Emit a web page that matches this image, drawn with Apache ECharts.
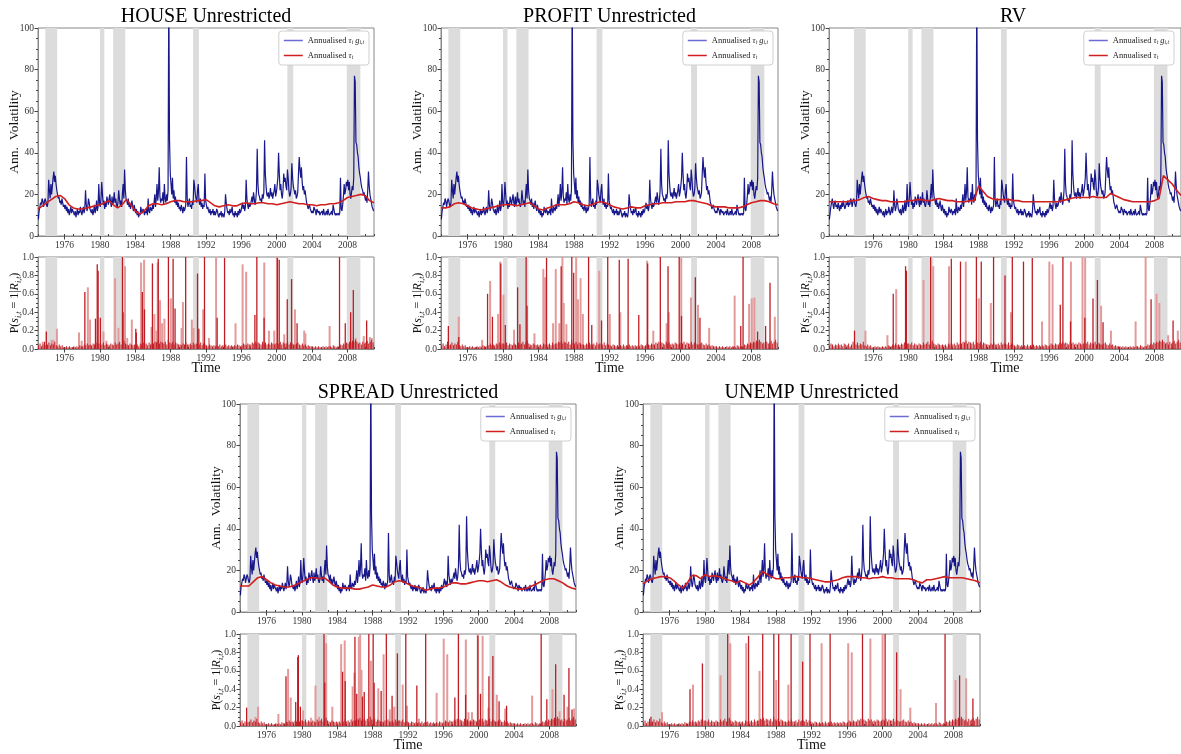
<!DOCTYPE html>
<html>
<head>
<meta charset="utf-8">
<script src="https://cdn.jsdelivr.net/npm/echarts@6/dist/echarts.min.js"></script>
<style>
  html, body { margin: 0; padding: 0; background: #fff; }
  #main { width: 1181px; height: 754px; }
</style>
</head>
<body>
<div id="main"></div>
<script>
// recession bands (NBER)
var recessions = [[1973.83, 1975.17], [1980.0, 1980.5], [1981.5, 1982.87], [1990.54, 1991.2], [2001.2, 2001.87], [2007.92, 2009.46]];
var yearTicks = [1976, 1980, 1984, 1988, 1992, 1996, 2000, 2004, 2008];

// annualised tau*g, monthly from Jan 1973 (same shape in every panel)
var blue = [
  8, 12, 14, 16, 15, 18, 17, 14, 16, 18, 17, 15,
  14, 16, 27, 22, 18, 25, 20, 24, 28, 31, 26, 29,
  25, 22, 20, 18, 19, 16, 17, 15, 18, 16, 14, 15,
  13, 15, 12, 14, 11, 13, 10, 12, 14, 11, 13, 12,
  11, 10, 12, 9, 11, 13, 10, 12, 11, 14, 12, 10,
  12, 14, 11, 13, 22, 15, 12, 14, 18, 16, 13, 12,
  11, 13, 10, 12, 15, 11, 13, 17, 12, 14, 25, 16,
  14, 18, 26, 20, 15, 17, 13, 16, 14, 19, 17, 15,
  18, 20, 16, 14, 19, 15, 17, 21, 16, 18, 15, 14,
  16, 22, 18, 15, 17, 14, 20, 25, 18, 32, 22, 18,
  17, 15, 18, 14, 16, 13, 15, 17, 14, 12, 15, 13,
  11, 13, 10, 12, 9, 11, 10, 14, 12, 11, 13, 12,
  10, 12, 11, 13, 10, 18, 12, 11, 14, 13, 12, 15,
  13, 16, 20, 14, 18, 25, 17, 21, 33, 19, 16, 18,
  17, 21, 15, 25, 18, 16, 20, 17, 22, 120, 46, 30,
  25, 20, 28, 18, 22, 16, 19, 15, 17, 14, 16, 13,
  14, 12, 15, 13, 11, 14, 12, 13, 15, 38, 18, 14,
  16, 18, 14, 15, 13, 17, 15, 27, 24, 20, 18, 16,
  22, 25, 17, 15, 18, 14, 16, 13, 15, 14, 30, 17,
  15, 13, 14, 12, 11, 13, 10, 12, 11, 13, 10, 12,
  10, 11, 13, 12, 10, 9, 11, 10, 12, 9, 11, 10,
  9, 12, 20, 16, 13, 11, 12, 10, 13, 11, 12, 14,
  10, 11, 9, 12, 10, 11, 9, 12, 10, 13, 11, 12,
  14, 16, 13, 15, 12, 14, 27, 18, 15, 13, 16, 14,
  15, 17, 19, 16, 21, 18, 15, 17, 22, 42, 25, 20,
  19, 17, 18, 16, 20, 18, 21, 46, 30, 24, 20, 19,
  21, 18, 20, 23, 19, 21, 18, 20, 22, 25, 19, 21,
  24, 28, 40, 30, 22, 25, 20, 18, 22, 30, 26, 28,
  24, 22, 32, 28, 22, 19, 20, 23, 35, 28, 24, 22,
  20, 22, 18, 19, 21, 30, 38, 32, 28, 33, 26, 22,
  24, 20, 22, 19, 16, 15, 13, 14, 15, 13, 12, 11,
  12, 11, 14, 13, 12, 10, 13, 12, 11, 12, 10, 11,
  11, 12, 10, 13, 11, 10, 11, 12, 10, 13, 11, 10,
  10, 11, 12, 10, 15, 13, 11, 10, 11, 10, 10, 11,
  10, 11, 28, 13, 12, 15, 19, 25, 20, 22, 26, 24,
  27, 22, 26, 20, 18, 21, 24, 22, 28, 77, 74, 45,
  44, 40, 38, 33, 30, 28, 25, 23, 22, 20, 21, 19,
  17, 19, 16, 22, 31, 24, 20, 18, 16, 14, 13, 12
];
// RV sample starts earlier: Jan 1971 - Feb 1973
var rvHead = [8, 11, 14, 16, 18, 15, 13, 16, 17, 14, 15, 13,
  16, 14, 12, 15, 13, 16, 14, 17, 15, 13, 14, 16, 15, 17];

// annualised tau, half-yearly from 1973.0 to 2011.0
var houseTau = [13, 14.5, 16, 17.5, 19, 19.5, 18, 15, 13.5, 13, 13, 13.5, 14, 14.5, 15, 16,
  17, 15, 13.5, 15, 17.5, 15, 12, 10.5, 12, 14.5, 15.5, 15.5, 15, 15.5, 16.5, 17,
  17, 16.5, 16.5, 16.5, 17, 17, 17.5, 16, 14.5, 14, 14.5, 15, 14.5, 14.5, 15.5, 16,
  15.5, 15.5, 16, 16, 15.5, 15.5, 15, 15.5, 16, 16.5, 16, 15.5, 15.5, 15, 15, 14.5,
  15, 15, 15.5, 15.5, 16, 17, 18.5, 19, 19.5, 20, 19.5, 17, 16];
var profitTau = [13.5, 13.5, 14, 15.5, 16, 15.5, 14.5, 13.5, 13, 12.5, 13, 13.5, 14, 14.5, 15, 15,
  15, 14.5, 15, 15.5, 16, 14.5, 13, 12.5, 13.5, 14, 15, 15, 15, 15.5, 16.5, 16,
  15, 14.5, 15, 16, 16.5, 16, 15, 14, 13.5, 13, 13.5, 14, 13.5, 13.5, 14.5, 15,
  15.5, 15.5, 16, 16, 16, 16.5, 16.5, 16.5, 17, 17, 16.5, 16, 15.5, 14.5, 14, 14,
  14, 13.5, 13.5, 13.5, 14, 15, 16, 16.5, 17, 17, 16.5, 15.5, 15];
var spreadTau = [12.5, 12.5, 12.5, 14.5, 16.5, 17, 15.5, 14, 13, 12.5, 12, 12, 12.5, 13.5, 14.5, 15.5,
  16.5, 16.5, 16, 16.5, 15, 13, 12, 11.5, 11.5, 11.5, 11, 11, 11.5, 12, 13, 12.5,
  12, 12, 13, 14.5, 15, 14.5, 13.5, 12.5, 12, 11.5, 10.5, 11, 11.5, 11.5, 12, 13,
  14, 14, 13.5, 13.5, 14, 14.5, 15, 15, 14.5, 15, 15.5, 14.5, 13, 12, 11.5, 11,
  11, 11.5, 12.5, 13.5, 14.5, 15.5, 16, 16, 15, 14, 12.5, 11.5, 11];
var unempTau = [13.5, 15, 16, 16.5, 17, 17, 16.5, 15, 13, 11.5, 14, 17.5, 17.5, 16, 18, 17,
  17.5, 17, 16.5, 15.5, 15, 14, 15, 14, 13, 14.5, 17, 19.5, 18, 17, 16, 16,
  16.5, 16.5, 17, 17, 16.5, 16.5, 16, 15.5, 15, 14.5, 14.5, 15, 15.5, 16.5, 17, 17,
  17, 16.5, 16.5, 16, 16.5, 16.5, 17, 16.5, 16.5, 16, 16, 16, 16, 15.5, 14.5, 14,
  15.5, 15.5, 16, 16.5, 17, 16.5, 16.5, 16.5, 16.5, 16, 15.5, 15, 14];
// RV tau, half-yearly from 1971.0 to 2011.0
var rvTau = [16.5, 16.5, 16.5, 16.5, 16.5, 17, 17, 17.5, 18.5, 19, 18, 17.5, 17, 17, 16.5, 16.5,
  16.5, 16.5, 17, 17, 17.5, 17.5, 17, 17, 17.5, 18, 17.5, 17, 17, 16.5, 16.5, 16.5,
  17, 17, 24, 21.5, 19, 18, 17.5, 17.5, 17.5, 17.5, 17, 17, 16.5, 16.5, 16.5, 16.5,
  16.5, 16.5, 16.5, 16.5, 16.5, 17, 17.5, 18, 18.5, 18.5, 18.5, 18.5, 19, 18.5, 18.5, 18.5,
  20.5, 19.5, 18.5, 17.5, 17, 16.5, 16.5, 16.5, 16.5, 16.5, 17, 18, 29, 27, 25, 22, 19.5];

// regime probability: low background level, two-monthly from 1973
var probBase = [
  .04, .06, .03, .05, .08, .04,  .05, .07, .04, .06, .05, .08,  .04, .03, .05, .03, .04, .02,
  .02, .03, .02, .03, .02, .02,  .03, .02, .03, .02, .04, .03,  .03, .05, .04, .06, .04, .05,
  .04, .06, .05, .07, .05, .06,  .06, .05, .07, .04, .06, .05,  .04, .06, .05, .04, .07, .05,
  .06, .08, .05, .07, .09, .06,  .05, .04, .06, .05, .04, .05,  .04, .05, .03, .06, .05, .07,
  .05, .06, .04, .07, .05, .06,  .06, .08, .07, .09, .06, .08,  .07, .06, .08, .05, .10, .07,
  .06, .08, .05, .07, .06, .05,  .05, .04, .06, .05, .07, .05,  .05, .06, .04, .07, .05, .06,
  .06, .05, .07, .04, .06, .05,  .04, .03, .05, .04, .03, .04,  .03, .04, .03, .05, .03, .04,
  .04, .05, .03, .04, .03, .04,  .03, .04, .03, .05, .04, .03,  .04, .06, .05, .04, .06, .05,
  .05, .07, .06, .08, .06, .07,  .06, .05, .08, .06, .07, .05,  .06, .05, .07, .06, .05, .06,
  .07, .06, .08, .05, .07, .06,  .06, .08, .05, .07, .06, .05,  .05, .06, .07, .05, .04, .06,
  .04, .05, .03, .04, .03, .03,  .03, .02, .03, .02, .03, .02,  .02, .03, .02, .03, .02, .03,
  .03, .02, .04, .03, .02, .03,  .03, .05, .04, .06, .05, .07,  .06, .08, .07, .09, .08, .10,
  .08, .06, .07, .05, .08, .06,  .07, .09, .06, .08, .10, .07
];
var rvBaseHead = [.04, .06, .05, .03, .05, .04, .06, .04, .05, .03, .06, .05];

// probability spikes [year, probability]
var houseDark = [[1973.94, .19], [1978.3, .62], [1979.5, .33], [1979.7, .92], [1979.8, .85], [1980.05, .34],
  [1982.55, 1], [1982.62, .4], [1984.06, .22], [1984.12, .18], [1984.8, .62], [1985.04, .43], [1985.94, .93],
  [1986.6, .98], [1987.75, 1], [1988.28, .98], [1988.5, .44], [1989.7, 1], [1991.04, .82], [1991.19, .22],
  [1991.83, 1], [1993.26, .34], [1994.1, .99], [1997.53, .37], [1997.75, 1], [1998.57, .34], [2000.08, .99],
  [2000.28, .97], [2001.19, .54], [2001.68, .76], [2002.3, .28], [2007.1, 1], [2007.75, .28], [2008.36, .4],
  [2008.66, .64], [2010.17, .31]];
var houseLight = [[1973.5, .08], [1974.5, .1], [1974.7, .1], [1975.1, .22], [1977.6, .18], [1977.9, .09],
  [1978.6, .67], [1978.85, .32], [1980.36, .19], [1980.7, .09], [1981.68, .77], [1982.06, .23], [1982.8, .9],
  [1983.05, .12], [1983.57, .32], [1984.62, .94], [1984.96, .97], [1985.8, .24], [1986.13, .38], [1986.36, .2],
  [1986.5, .94], [1986.77, .53], [1987.0, .28], [1987.26, .33], [1987.98, .55], [1989.2, .23], [1989.35, .51],
  [1990.36, .32], [1990.55, .23], [1991.64, .43], [1992.3, .12], [1993.1, .99], [1995.3, .28], [1996.1, .92],
  [1996.5, .84], [1998.55, .94], [1999.08, .2], [1999.68, .2], [1999.98, 1], [2000.81, .16], [2002.02, .43],
  [2003.07, .2], [2003.2, .17], [2005.94, .25], [2008.9, .12], [2009.8, .14], [2010.5, .13], [2010.7, .12]];

var profitDark = [[1973.83, .25], [1975.0, .13], [1978.25, .6], [1978.8, .35], [1979.74, .93], [1980.25, .26],
  [1981.64, .67], [1981.9, .27], [1982.6, 1], [1982.7, .47], [1984.9, .99], [1986.55, .9], [1987.75, 1],
  [1987.96, .83], [1989.64, 1], [1990.0, .26], [1991.1, .31], [1991.8, 1], [1993.1, .97], [1994.1, .98],
  [1995.3, .37], [1996.3, .93], [1997.73, 1], [1998.6, .9], [1999.86, 1], [2000.12, .36], [2001.68, .78],
  [2002.2, .34], [2006.8, .25], [2007.06, 1], [2008.7, .19], [2009.6, .25], [2010.1, .72]];
var profitLight = [[1974.96, .35], [1977.6, .1], [1978.5, .74], [1979.4, .38], [1979.64, .95], [1980.0, .59],
  [1981.2, .21], [1983.5, .17], [1984.5, .87], [1984.7, .78], [1985.6, .28], [1985.9, .87], [1986.3, .28],
  [1986.65, 1], [1986.8, .5], [1987.1, .27], [1988.2, 1], [1988.4, .54], [1988.7, .77], [1988.96, .38],
  [1990.8, .85], [1992.0, .38], [1993.18, .4], [1996.2, .96], [1996.9, .2], [1998.4, .28], [1998.65, .4],
  [2000.05, .99], [2001.15, .56], [2001.94, .48], [2003.2, .23], [2006.07, .58], [2007.7, .49], [2008.0, .55],
  [2008.3, .56], [2010.6, .35]];

var rvDark = [[1973.9, .2], [1978.3, .6], [1979.7, .9], [1979.8, .85], [1982.55, 1], [1984.9, .98], [1985.94, .95],
  [1987.75, 1], [1988.3, .95], [1989.7, 1], [1991.0, .8], [1991.83, 1], [1993.1, .95], [1994.1, .99],
  [1997.28, .48], [1997.58, 1], [1998.45, .3], [2000.07, .34], [2001.0, .55], [2001.5, .75], [2002.14, .29],
  [2007.6, .54], [2010.1, .31]];
var rvLight = [[1975.1, .2], [1977.6, .15], [1978.6, .65], [1981.7, .75], [1982.8, .9], [1984.6, .9], [1986.5, .95],
  [1987.98, .55], [1989.35, .5], [1991.64, .4], [1995.17, .3], [1996.0, .95], [1996.37, .92], [1998.45, .95],
  [1999.77, 1], [2000.07, .99], [2001.88, .47], [2003.0, .2], [2005.8, .3], [2006.94, 1], [2008.18, .6],
  [2008.5, .5], [2009.5, .15], [2010.6, .2]];

var spreadDark = [[1973.75, .2], [1978.2, .54], [1979.3, .26], [1979.53, .75], [1979.6, .77], [1979.83, .21],
  [1982.5, 1], [1982.58, .47], [1984.6, .59], [1984.9, .49], [1986.0, .97], [1986.2, .35], [1986.85, .32],
  [1987.05, .37], [1987.57, 1], [1988.06, 1], [1988.17, .47], [1988.96, .38], [1989.55, 1], [1990.2, .33],
  [1990.8, .79], [1991.75, 1], [1993.0, .44], [1994.0, 1], [1997.3, .31], [1997.7, 1], [1998.52, .34],
  [1999.9, .98], [2000.2, .35], [2001.15, .54], [2001.6, .76], [2002.3, .27], [2003.15, .22], [2007.06, 1],
  [2007.7, .29], [2008.7, .67], [2009.65, .34], [2010.2, .63], [2010.55, .18]];
var spreadLight = [[1974.7, .1], [1975.0, .21], [1977.3, .13], [1978.4, .62], [1978.7, .31], [1980.1, .17],
  [1981.0, .09], [1981.5, .44], [1981.9, .1], [1982.7, .9], [1983.4, .21], [1984.4, .89], [1984.8, .93],
  [1985.7, .43], [1985.9, .58], [1986.4, .97], [1986.55, 1], [1986.7, .61], [1987.76, .71], [1988.6, .41],
  [1989.2, .78], [1989.9, .18], [1990.4, .21], [1991.36, .45], [1991.85, .22], [1993.2, .08], [1995.2, .36],
  [1996.0, .95], [1996.4, .78], [1998.5, .94], [1998.8, .15], [1999.2, .15], [1999.85, 1], [2000.4, .98],
  [2001.06, .2], [2002.0, .34], [2002.95, .19], [2006.0, .33], [2008.3, .4], [2009.1, .16], [2010.0, .21],
  [2010.75, .19]];

var unempDark = [[1973.9, .1], [1978.3, .4], [1979.7, .68], [1982.55, 1], [1984.9, .98], [1986.5, 1], [1987.75, 1],
  [1988.3, 1], [1989.7, 1], [1991.0, .7], [1991.83, 1], [1994.1, 1], [1997.75, 1], [2000.3, 1], [2001.6, .8],
  [2007.06, 1], [2008.7, .55], [2010.2, .3]];
var unempLight = [[1975.1, .15], [1978.6, .45], [1981.7, .55], [1982.8, .9], [1984.6, .9], [1986.1, .6],
  [1987.98, .5], [1989.35, .45], [1993.1, .9], [1996.1, .9], [1996.5, .8], [1998.6, .95], [1999.98, 1],
  [2002.0, .4], [2003.1, .2], [2006.0, .25], [2008.2, .5], [2009.4, .52]];

var FONT = 'Liberation Serif';

function monthly(arr, start) {
  return arr.map(function (v, i) { return [start + (i + 0.5) / 12, v]; });
}
function halfYear(arr, start) {
  return arr.map(function (v, i) { return [start + i * 0.5, v]; });
}
function twoMonthly(arr, start) {
  return arr.map(function (v, i) { return [start + (i + 0.5) / 6, v]; });
}

var panels = [
  { title: 'HOUSE Unrestricted', left: 38, width: 336, top: 28, ptop: 257, min: 1973,
    tg: monthly(blue, 1973), tau: halfYear(houseTau, 1973), base: twoMonthly(probBase, 1973), dark: houseDark, light: houseLight },
  { title: 'PROFIT Unrestricted', left: 441, width: 337, top: 28, ptop: 257, min: 1973,
    tg: monthly(blue, 1973), tau: halfYear(profitTau, 1973), base: twoMonthly(probBase, 1973), dark: profitDark, light: profitLight },
  { title: 'RV', left: 829, width: 354, top: 28, ptop: 257, min: 1971,
    tg: monthly(rvHead.concat(blue.slice(2)), 1971), tau: halfYear(rvTau, 1971), base: twoMonthly(rvBaseHead.concat(probBase), 1971), dark: rvDark, light: rvLight },
  { title: 'SPREAD Unrestricted', left: 240, width: 336, top: 404, ptop: 634, min: 1973,
    tg: monthly(blue, 1973), tau: halfYear(spreadTau, 1973), base: twoMonthly(probBase, 1973), dark: spreadDark, light: spreadLight },
  { title: 'UNEMP Unrestricted', left: 643, width: 337, top: 404, ptop: 634, min: 1973,
    tg: monthly(blue, 1973), tau: halfYear(unempTau, 1973), base: twoMonthly(probBase, 1973), dark: unempDark, light: unempLight }
];

var allYears = [];
for (var y = 1971; y <= 2011; y++) allYears.push(y);

var grids = [], xAxes = [], minorX = [], yAxes = [], series = [], legends = [], graphics = [];
var bandData = recessions.map(function (r) { return [{ xAxis: r[0] }, { xAxis: r[1] }]; });

panels.forEach(function (p, k) {
  var gTop = 2 * k, gBot = 2 * k + 1;
  grids.push({ left: p.left, top: p.top, width: p.width, height: 208, show: true, borderColor: '#888', borderWidth: 1 });
  grids.push({ left: p.left, top: p.ptop, width: p.width, height: 92, show: true, borderColor: '#888', borderWidth: 1 });

  [gTop, gBot].forEach(function (g) {
    var isBot = g === gBot;
    xAxes[g] = {
      type: 'value', gridIndex: g, min: p.min, max: 2011,
      axisLine: { show: true, onZero: false, lineStyle: { color: '#888' } },
      axisTick: { show: true, customValues: yearTicks, length: 3.5, lineStyle: { color: '#444' } },
      axisLabel: { customValues: yearTicks, formatter: function (v) { return String(v); },
        fontFamily: FONT, fontSize: 9.5, color: '#333', margin: 4 },
      splitLine: { show: false },
      name: isBot ? 'Time' : '', nameLocation: 'middle', nameGap: 12, nameMoveOverlap: false,
      nameTextStyle: { fontFamily: FONT, fontSize: 14, color: '#111', verticalAlign: 'top' }
    };
    minorX.push({
      type: 'value', gridIndex: g, min: p.min, max: 2011,
      axisLine: { show: false }, axisLabel: { show: false }, splitLine: { show: false },
      axisTick: { show: true, customValues: allYears, length: 2, lineStyle: { color: '#444' } }
    });
    yAxes[g] = isBot ? {
      type: 'value', gridIndex: g, min: 0, max: 1, interval: 0.2,
      axisLine: { show: true, lineStyle: { color: '#888' } },
      axisTick: { show: true, length: 3.5, lineStyle: { color: '#444' } },
      minorTick: { show: true, splitNumber: 4, length: 2, lineStyle: { color: '#444' } },
      axisLabel: { formatter: function (v) { return v.toFixed(1); }, fontFamily: FONT, fontSize: 9.5, color: '#333', margin: 4 },
      splitLine: { show: false },
      name: '{a|P(}{m|s}{s|i,t}{a| = 1|}{m|R}{s|i,t}{a|)}', nameLocation: 'middle', nameGap: 15, nameRotate: 90,
      nameMoveOverlap: false,
      nameTextStyle: { fontFamily: FONT, fontSize: 12, color: '#111', rich: {
        a: { fontFamily: FONT, fontSize: 12, color: '#111' },
        m: { fontFamily: FONT, fontSize: 12, fontStyle: 'italic', color: '#111' },
        s: { fontFamily: FONT, fontSize: 8, fontStyle: 'italic', color: '#111', verticalAlign: 'bottom', lineHeight: 16 }
      } }
    } : {
      type: 'value', gridIndex: g, min: 0, max: 100, interval: 20,
      axisLine: { show: true, lineStyle: { color: '#888' } },
      axisTick: { show: true, length: 3.5, lineStyle: { color: '#444' } },
      minorTick: { show: true, splitNumber: 4, length: 2, lineStyle: { color: '#444' } },
      axisLabel: { fontFamily: FONT, fontSize: 9.5, color: '#333', margin: 4 },
      splitLine: { show: false },
      name: 'Ann.  Volatility', nameLocation: 'middle', nameGap: 17, nameRotate: 90, nameMoveOverlap: false,
      nameTextStyle: { fontFamily: FONT, fontSize: 13.5, color: '#111' }
    };
    series.push({
      type: 'line', xAxisIndex: g, yAxisIndex: g, data: [], z: 1, silent: true,
      markArea: { silent: true, itemStyle: { color: '#dcdcdc', opacity: 1 }, label: { show: false }, data: bandData }
    });
  });

  series.push({ type: 'line', name: 'tg', xAxisIndex: gTop, yAxisIndex: gTop, data: p.tg, symbol: 'none',
    lineStyle: { width: 1.2, color: 'rgba(0,0,128,0.9)' }, z: 3, silent: true });
  series.push({ type: 'line', name: 'tau', xAxisIndex: gTop, yAxisIndex: gTop, data: p.tau, symbol: 'none',
    lineStyle: { width: 1.6, color: '#d11f1f' }, z: 4, silent: true });

  series.push({ type: 'bar', xAxisIndex: gBot, yAxisIndex: gBot, data: p.light, barWidth: 2, barGap: '-100%',
    itemStyle: { color: '#e49a9a' }, z: 2, silent: true });
  series.push({ type: 'bar', xAxisIndex: gBot, yAxisIndex: gBot, data: p.base, barWidth: 1, barGap: '-100%',
    itemStyle: { color: '#bf1d24' }, z: 3, silent: true });
  series.push({ type: 'bar', xAxisIndex: gBot, yAxisIndex: gBot, data: p.dark, barWidth: 1.3, barGap: '-100%',
    itemStyle: { color: '#bf1d24' }, z: 4, silent: true });

  var right = 1181 - (p.left + p.width) + (k === 2 ? 9 : 5);
  legends.push({
    orient: 'vertical', right: right, top: p.top + 3, icon: 'rect', itemWidth: 19, itemHeight: 1.5, itemGap: 5,
    padding: [5, 5, 4, 5], backgroundColor: '#fff', borderColor: '#d0d0d0', borderWidth: 1, borderRadius: 3,
    selectedMode: false,
    data: [
      { name: 'tg', itemStyle: { color: '#6b6bd6' } },
      { name: 'tau', itemStyle: { color: '#d11f1f' } }
    ],
    formatter: function (name) {
      return name === 'tg' ? '{a|Annualised }{m|τ}{s|t}{a| }{m|g}{s|i,t}' : '{a|Annualised }{m|τ}{s|t}';
    },
    textStyle: { fontFamily: FONT, fontSize: 8.5, color: '#222', rich: {
      a: { fontFamily: FONT, fontSize: 8.5, color: '#222', lineHeight: 11 },
      m: { fontFamily: FONT, fontSize: 8.5, fontStyle: 'italic', color: '#222', lineHeight: 11 },
      s: { fontFamily: FONT, fontSize: 5.5, fontStyle: 'italic', color: '#222', verticalAlign: 'bottom', lineHeight: 11 }
    } }
  });

  graphics.push({ type: 'text', x: p.left + (k === 2 ? 184 : p.width / 2), y: p.top - 21,
    style: { text: p.title, fill: '#000', font: '20px "' + FONT + '"', textAlign: 'center' }, silent: true });
});

var chart = echarts.init(document.getElementById('main'), null, { renderer: 'canvas' });
chart.setOption({
  animation: false,
  backgroundColor: '#fff',
  grid: grids,
  xAxis: xAxes.concat(minorX),
  yAxis: yAxes,
  legend: legends,
  graphic: graphics,
  series: series
});
</script>
</body>
</html>
